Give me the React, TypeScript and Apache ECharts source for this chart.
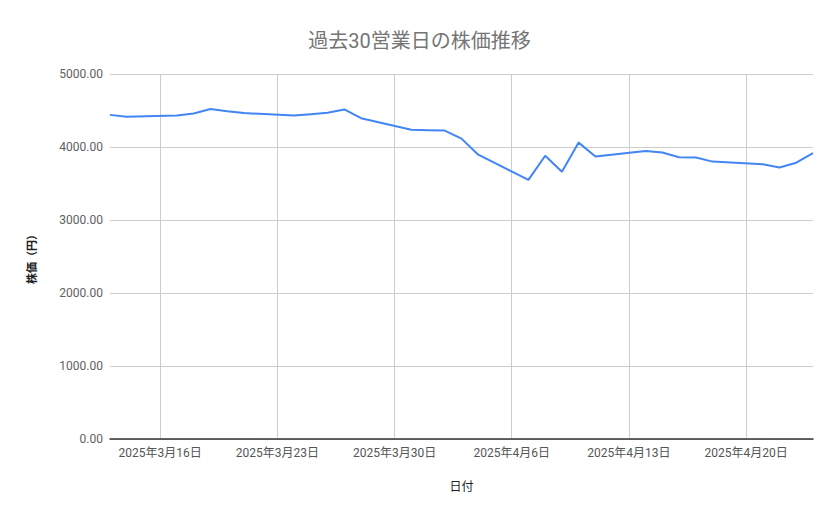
import { useEffect, useRef } from 'react';
import * as echarts from 'echarts';

// business days (YYYY-MM-DD) and closing prices
const tradeDates = [
  '2025-03-13', '2025-03-14', '2025-03-17', '2025-03-18', '2025-03-19', '2025-03-20', '2025-03-21',
  '2025-03-24', '2025-03-25', '2025-03-26', '2025-03-27', '2025-03-28', '2025-03-31', '2025-04-01',
  '2025-04-02', '2025-04-03', '2025-04-04', '2025-04-07', '2025-04-08', '2025-04-09', '2025-04-10',
  '2025-04-11', '2025-04-14', '2025-04-15', '2025-04-16', '2025-04-17', '2025-04-18', '2025-04-21',
  '2025-04-22', '2025-04-23', '2025-04-24',
];
const prices = [
  4440, 4415, 4430, 4460, 4520, 4490, 4465,
  4430, 4450, 4470, 4515, 4395, 4235, 4230,
  4225, 4115, 3895, 3550, 3880, 3660, 4060,
  3870, 3945, 3925, 3860, 3855, 3800, 3765,
  3720, 3785, 3915,
];
const yTicks = [0, 1000, 2000, 3000, 4000, 5000];

const TITLE = '過去30営業日の株価推移';
const X_NAME = '日付';
const Y_NAME = '株価（円）';

const FONT = "Roboto, 'Noto Sans CJK JP', sans-serif";

// every calendar day from first to last trade date, so weekends keep their width
function buildCalendar(first: string, last: string): string[] {
  const out: string[] = [];
  const d = new Date(first + 'T00:00:00Z');
  const end = new Date(last + 'T00:00:00Z');
  while (d.getTime() <= end.getTime()) {
    out.push(d.toISOString().slice(0, 10));
    d.setUTCDate(d.getUTCDate() + 1);
  }
  return out;
}

const isSunday = (iso: string) => new Date(iso + 'T00:00:00Z').getUTCDay() === 0;

const jpDate = (iso: string) => {
  const [y, m, d] = iso.split('-').map(Number);
  return `${y}年${m}月${d}日`;
};

export default function App() {
  const chartRef = useRef<HTMLDivElement>(null);

  useEffect(() => {
    if (!chartRef.current) return;
    document.body.style.margin = '0';

    const days = buildCalendar(tradeDates[0], tradeDates[tradeDates.length - 1]);
    const priceByDay: Record<string, number> = {};
    tradeDates.forEach((d, i) => { priceByDay[d] = prices[i]; });
    const seriesData = days.map((d) => (d in priceByDay ? priceByDay[d] : null));

    const sundayOnly = (index: number) => isSunday(days[index]);

    const chart = echarts.init(chartRef.current, undefined, { renderer: 'svg' });

    const option: echarts.EChartsOption = {
      animation: false,
      backgroundColor: '#ffffff',
      textStyle: { fontFamily: FONT },
      title: {
        text: TITLE,
        left: 'center',
        top: 26,
        textStyle: { fontSize: 20, fontWeight: 'normal', color: '#757575', fontFamily: FONT },
      },
      grid: { left: 110, right: 26, top: 74, bottom: 80 },
      xAxis: {
        type: 'category',
        data: days,
        boundaryGap: false,
        name: X_NAME,
        nameLocation: 'middle',
        nameGap: 42,
        nameTextStyle: { fontSize: 12, color: '#222222', fontFamily: FONT },
        axisLine: { show: true, lineStyle: { color: '#333333', width: 1.5 } },
        axisTick: { show: false },
        axisLabel: {
          interval: sundayOnly,
          formatter: (v: string) => jpDate(v),
          color: '#555555',
          fontSize: 12,
          margin: 8,
          fontFamily: FONT,
        },
        splitLine: { show: true, interval: sundayOnly, lineStyle: { color: '#cccccc', width: 1 } },
      },
      yAxis: {
        type: 'value',
        min: yTicks[0],
        max: yTicks[yTicks.length - 1],
        interval: 1000,
        name: Y_NAME,
        nameLocation: 'middle',
        nameGap: 72,
        nameTextStyle: { fontSize: 11, color: '#222222', fontWeight: 'bold', fontFamily: FONT },
        axisLine: { show: false },
        axisTick: { show: false },
        axisLabel: {
          formatter: (v: number) => v.toFixed(2),
          color: '#616161',
          fontSize: 12,
          margin: 7,
          fontFamily: FONT,
        },
        splitLine: { lineStyle: { color: '#cccccc', width: 1 } },
      },
      series: [
        {
          type: 'line',
          data: seriesData,
          connectNulls: true,
          showSymbol: false,
          symbol: 'none',
          lineStyle: { color: '#4285f4', width: 2 },
          itemStyle: { color: '#4285f4' },
        },
      ],
    };

    chart.setOption(option);

    return () => {
      chart.dispose();
    };
  }, []);

  return <div ref={chartRef} style={{ width: 839, height: 519 }} />;
}
